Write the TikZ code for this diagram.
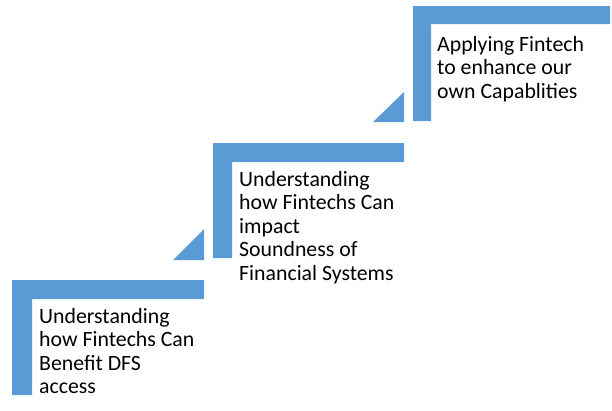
\documentclass[tikz,border=0pt]{standalone}
\usepackage{fontspec}
\setmainfont{Carlito}
\usetikzlibrary{positioning}
\definecolor{stepblue}{HTML}{5B9BD5}

\begin{document}
\begin{tikzpicture}[x=1pt,y=-1pt,
  stair/.style={fill=stepblue,draw=none},
  steptext/.style={anchor=base west,align=left,inner sep=0pt,font=\fontsize{21.8}{23.5}\selectfont}]
\useasboundingbox (0,0) rectangle (612,410);
% bottom step
\fill[stair] (12,280) -- (204,280) -- (204,299) -- (32,299) -- (32,395) -- (12,395) -- cycle;
\node[steptext] (benefit) at (39,393.5) {Understanding\\how Fintechs Can\\Benefit DFS\\access};
% middle step
\fill[stair] (173,260) -- (204,229) -- (204,260) -- cycle;
\fill[stair] (213,143) -- (404,143) -- (404,162) -- (232,162) -- (232,258) -- (213,258) -- cycle;
\node[steptext] (sound) at (239,280) {Understanding\\how Fintechs Can\\impact\\Soundness of\\Financial Systems};
% top step
\fill[stair] (373,122) -- (404,92) -- (404,122) -- cycle;
\fill[stair] (413,6) -- (610,6) -- (610,24) -- (431,24) -- (431,121) -- (413,121) -- cycle;
\node[steptext] (apply) at (437,98) {Applying Fintech\\to enhance our\\own Capablities};
\end{tikzpicture}
\end{document}
